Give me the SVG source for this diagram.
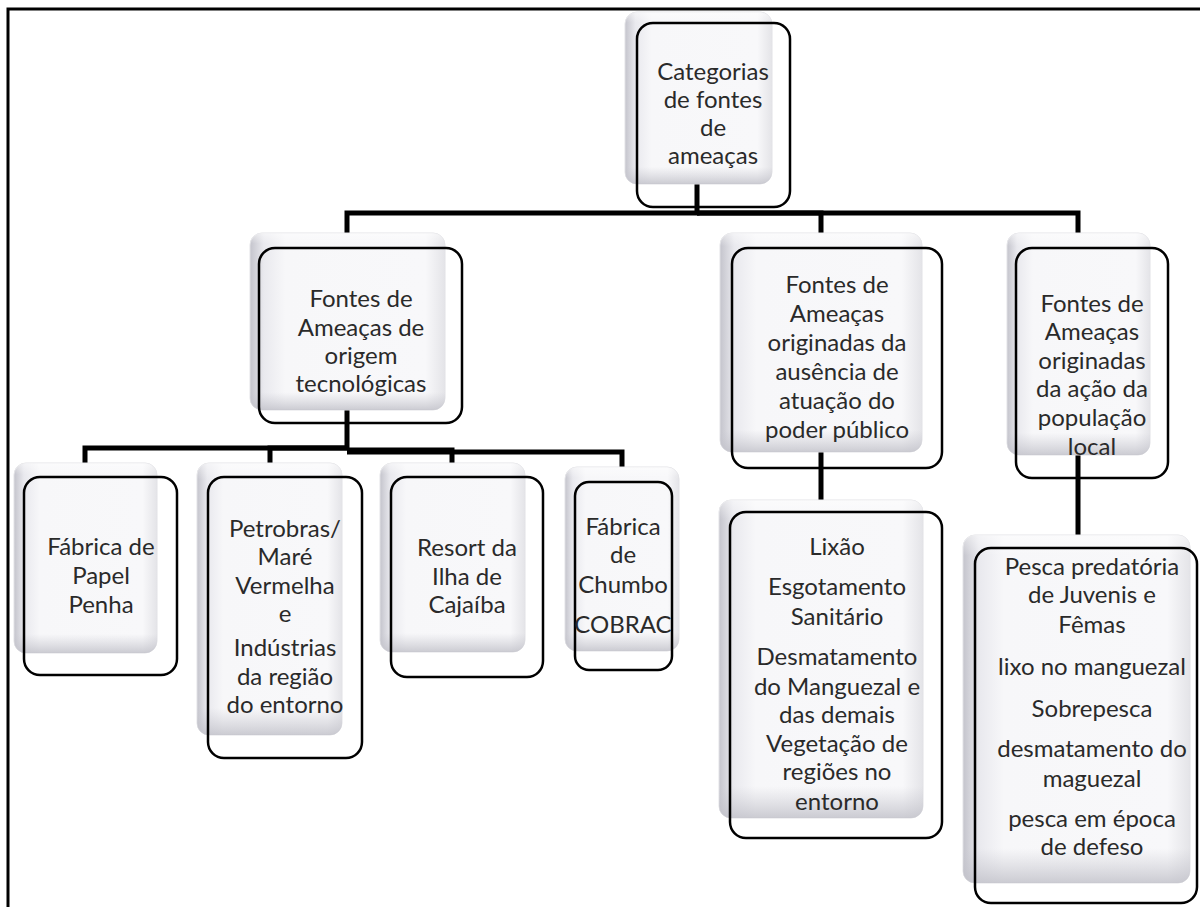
<svg xmlns="http://www.w3.org/2000/svg" width="1200" height="907" viewBox="0 0 1200 907">
<defs>
<linearGradient id="gh" x1="0" y1="0" x2="1" y2="0">
<stop offset="0" stop-color="#c4c4cc"/>
<stop offset="0.07" stop-color="#e9e9ee"/>
<stop offset="0.18" stop-color="#f7f7f9"/>
<stop offset="0.9" stop-color="#f8f8fa"/>
<stop offset="1" stop-color="#e4e4e8"/>
</linearGradient>
<linearGradient id="gv" x1="0" y1="0" x2="0" y2="1">
<stop offset="0" stop-color="#ffffff" stop-opacity="0.5"/>
<stop offset="0.06" stop-color="#ffffff" stop-opacity="0"/>
<stop offset="0.9" stop-color="#c8c8d0" stop-opacity="0"/>
<stop offset="1" stop-color="#c0c0c8" stop-opacity="0.8"/>
</linearGradient>
</defs>
<style>
.sh{fill:url(#gh);stroke:#e2e2e6;stroke-width:1}
.sv{fill:url(#gv);stroke:none}
.ol{fill:none;stroke:#000;stroke-width:2.5}
.t{font-family:Lato,"Liberation Sans",sans-serif;font-size:24px;fill:#2a2a2a;text-anchor:middle}
.c{fill:none;stroke:#000;stroke-width:5}
.f{fill:none;stroke:#000;stroke-width:3}
</style>
<rect width="1200" height="907" fill="#fff"/>
<path class="f" d="M8,907 V9 H1200"/>

<g id="connectors">
<path class="c" d="M697,183 V213 H347 V233"/>
<path class="c" d="M697,213 H821 V233"/>
<path class="c" d="M697,213 H1078 V233"/>
<path class="c" d="M347,410 V448 H85 V463"/>
<path class="c" d="M347,448 H270 V463"/>
<path class="c" d="M347,450 H452 V463"/>
<path class="c" d="M347,452 H622 V467"/>
<path class="c" d="M821,452 V500"/>
<path class="c" d="M1078,455 V535"/>
</g>

<g id="root">
<rect class="sh" x="625" y="12" width="147" height="172" rx="12"/>
<rect class="sv" x="625" y="12" width="147" height="172" rx="12"/>
<rect class="ol" x="637" y="23" width="153" height="184" rx="16"/>
<text class="t"><tspan x="713" y="80">Categorias</tspan><tspan x="713" y="108">de fontes</tspan><tspan x="713" y="136">de</tspan><tspan x="713" y="164">ameaças</tspan></text>
</g>

<g id="tec">
<rect class="sh" x="250" y="233" width="195" height="177" rx="12"/>
<rect class="sv" x="250" y="233" width="195" height="177" rx="12"/>
<rect class="ol" x="259" y="248" width="203" height="175" rx="16"/>
<text class="t"><tspan x="361" y="307">Fontes de</tspan><tspan x="361" y="336">Ameaças de</tspan><tspan x="361" y="364">origem</tspan><tspan x="361" y="392">tecnológicas</tspan></text>
</g>

<g id="publico">
<rect class="sh" x="720" y="233" width="202" height="219" rx="12"/>
<rect class="sv" x="720" y="233" width="202" height="219" rx="12"/>
<rect class="ol" x="732" y="248" width="210" height="220" rx="16"/>
<text class="t"><tspan x="837" y="293">Fontes de</tspan><tspan x="837" y="322">Ameaças</tspan><tspan x="837" y="351">originadas da</tspan><tspan x="837" y="380">ausência de</tspan><tspan x="837" y="409">atuação do</tspan><tspan x="837" y="438">poder público</tspan></text>
</g>

<g id="populacao">
<rect class="sh" x="1007" y="233" width="143" height="222" rx="12"/>
<rect class="sv" x="1007" y="233" width="143" height="222" rx="12"/>
<rect class="ol" x="1016" y="248" width="152" height="230" rx="16"/>
<text class="t"><tspan x="1092" y="312">Fontes de</tspan><tspan x="1092" y="340">Ameaças</tspan><tspan x="1092" y="369">originadas</tspan><tspan x="1092" y="397">da ação da</tspan><tspan x="1092" y="426">população</tspan><tspan x="1092" y="455">local</tspan></text>
</g>

<g id="papel">
<rect class="sh" x="14" y="463" width="143" height="190" rx="12"/>
<rect class="sv" x="14" y="463" width="143" height="190" rx="12"/>
<rect class="ol" x="24" y="477" width="153" height="198" rx="16"/>
<text class="t"><tspan x="101" y="555">Fábrica de</tspan><tspan x="101" y="584">Papel</tspan><tspan x="101" y="613">Penha</tspan></text>
</g>

<g id="petrobras">
<rect class="sh" x="197" y="463" width="145" height="272" rx="12"/>
<rect class="sv" x="197" y="463" width="145" height="272" rx="12"/>
<rect class="ol" x="208" y="477" width="154" height="281" rx="16"/>
<text class="t"><tspan x="285" y="537">Petrobras/</tspan><tspan x="285" y="565">Maré</tspan><tspan x="285" y="594">Vermelha</tspan><tspan x="285" y="622">e</tspan><tspan x="285" y="656">Indústrias</tspan><tspan x="285" y="685">da região</tspan><tspan x="285" y="713">do entorno</tspan></text>
</g>

<g id="resort">
<rect class="sh" x="380" y="463" width="145" height="189" rx="12"/>
<rect class="sv" x="380" y="463" width="145" height="189" rx="12"/>
<rect class="ol" x="391" y="477" width="152" height="200" rx="16"/>
<text class="t"><tspan x="467" y="556">Resort da</tspan><tspan x="467" y="585">Ilha de</tspan><tspan x="467" y="613">Cajaíba</tspan></text>
</g>

<g id="chumbo">
<rect class="sh" x="565" y="467" width="114" height="184" rx="12"/>
<rect class="sv" x="565" y="467" width="114" height="184" rx="12"/>
<rect class="ol" x="575" y="482" width="97" height="188" rx="14"/>
<text class="t"><tspan x="623" y="535">Fábrica</tspan><tspan x="623" y="563">de</tspan><tspan x="623" y="593">Chumbo</tspan><tspan x="623" y="633">COBRAC</tspan></text>
</g>

<g id="lixao">
<rect class="sh" x="719" y="500" width="204" height="318" rx="12"/>
<rect class="sv" x="719" y="500" width="204" height="318" rx="12"/>
<rect class="ol" x="730" y="512" width="212" height="326" rx="16"/>
<text class="t"><tspan x="837" y="555">Lixão</tspan><tspan x="837" y="595">Esgotamento</tspan><tspan x="837" y="625">Sanitário</tspan><tspan x="837" y="665">Desmatamento</tspan><tspan x="837" y="695">do Manguezal e</tspan><tspan x="837" y="723">das demais</tspan><tspan x="837" y="752">Vegetação de</tspan><tspan x="837" y="780">regiões no</tspan><tspan x="837" y="810">entorno</tspan></text>
</g>

<g id="pesca">
<rect class="sh" x="963" y="535" width="227" height="348" rx="12"/>
<rect class="sv" x="963" y="535" width="227" height="348" rx="12"/>
<rect class="ol" x="975" y="548" width="222" height="355" rx="16"/>
<text class="t"><tspan x="1092" y="575">Pesca predatória</tspan><tspan x="1092" y="603">de Juvenis e</tspan><tspan x="1092" y="633">Fêmas</tspan><tspan x="1092" y="675">lixo no manguezal</tspan><tspan x="1092" y="717">Sobrepesca</tspan><tspan x="1092" y="757">desmatamento do</tspan><tspan x="1092" y="787">maguezal</tspan><tspan x="1092" y="827">pesca em época</tspan><tspan x="1092" y="855">de defeso</tspan></text>
</g>
</svg>
